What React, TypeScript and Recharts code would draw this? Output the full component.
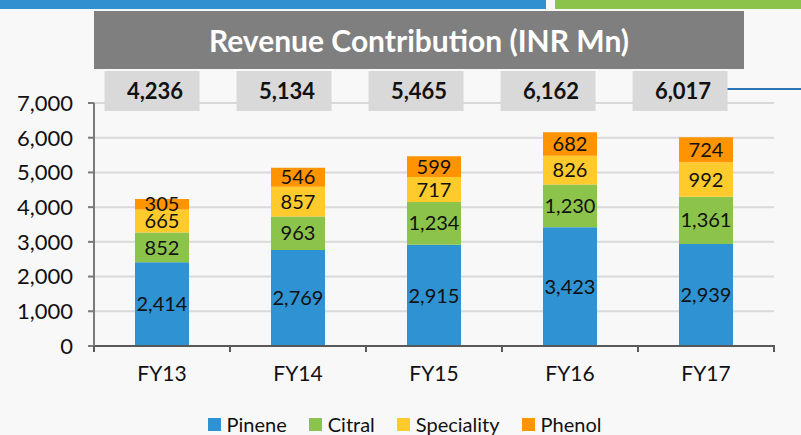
import { Bar, BarChart, CartesianGrid, LabelList, XAxis, YAxis } from 'recharts';

const categories = ['FY13', 'FY14', 'FY15', 'FY16', 'FY17'];
const pinene = [2414, 2769, 2915, 3423, 2939];
const citral = [852, 963, 1234, 1230, 1361];
const speciality = [665, 857, 717, 826, 992];
const phenol = [305, 546, 599, 682, 724];
const totals = [4236, 5134, 5465, 6162, 6017];
const yTicks = [0, 1000, 2000, 3000, 4000, 5000, 6000, 7000];

const series = [
  { key: 'pinene', name: 'Pinene', color: '#2f93d3' },
  { key: 'citral', name: 'Citral', color: '#8cc44b' },
  { key: 'speciality', name: 'Speciality', color: '#ffca2b' },
  { key: 'phenol', name: 'Phenol', color: '#ff9300' },
];

const data = categories.map((cat, i) => ({
  cat,
  pinene: pinene[i],
  citral: citral[i],
  speciality: speciality[i],
  phenol: phenol[i],
  total: totals[i],
}));

const FONT = 'Lato, "Open Sans", sans-serif';
const fmt = (v: unknown) => Number(v).toLocaleString('en-US');

function TotalBox(props: any) {
  const cx = Number(props.x) + Number(props.width) / 2;
  // the boxes sit a little left of their bars, drifting more toward the right
  const bx = 0.9706 * cx - 5.2;
  return (
    <g>
      <rect x={bx - 47.5} y={71} width={95} height={40} fill="#d9d9d9" />
      <text
        x={bx + 3}
        y={99}
        textAnchor="middle"
        fontFamily={FONT}
        fontWeight={700}
        fontSize={22}
        fill="#111"
      >
        {fmt(props.value)}
      </text>
    </g>
  );
}

function XTick(props: any) {
  const { x, y, payload, index } = props;
  const half = 68;
  return (
    <g>
      <line x1={x - half} x2={x - half} y1={y} y2={y + 6} stroke="#595959" strokeWidth={2} />
      {index === categories.length - 1 && (
        <line x1={x + half} x2={x + half} y1={y - 1} y2={y + 6} stroke="#595959" strokeWidth={2} />
      )}
      <text x={x} y={y + 35} textAnchor="middle" fontFamily={FONT} fontSize={21} fill="#111">
        {payload.value}
      </text>
    </g>
  );
}

export default function App() {
  return (
    <div
      style={{
        position: 'fixed',
        left: 0,
        top: 0,
        width: 801,
        height: 435,
        background: '#f8f8f8',
        fontFamily: FONT,
        overflow: 'hidden',
      }}
    >
      <div style={{ position: 'absolute', left: 0, top: 0, width: 546, height: 9, background: '#3190d0' }} />
      <div style={{ position: 'absolute', left: 555, top: 0, width: 246, height: 9, background: '#8cc34a' }} />
      <div style={{ position: 'absolute', left: 727, top: 88, width: 74, height: 2, background: '#2e75b6' }} />
      <div
        style={{
          position: 'absolute',
          left: 94,
          top: 11,
          width: 650,
          height: 58,
          background: '#7f7f7f',
          color: '#fff',
          fontWeight: 700,
          fontSize: 30,
          lineHeight: '58px',
          textAlign: 'center',
        }}
      >
        Revenue Contribution (INR Mn)
      </div>

      <div style={{ position: 'absolute', left: 0, top: 0 }}>
        <BarChart
          width={801}
          height={435}
          data={data}
          margin={{ top: 103, right: 27, bottom: 59, left: 0 }}
        >
          <CartesianGrid vertical={false} stroke="#d9d9d9" strokeWidth={2} />
          <XAxis
            dataKey="cat"
            height={30}
            axisLine={{ stroke: '#595959', strokeWidth: 2 }}
            tickLine={false}
            tickSize={0}
            tickMargin={0}
            tick={<XTick />}
            interval={0}
          />
          <YAxis
            width={94}
            domain={[0, 7000]}
            ticks={yTicks}
            interval={0}
            tickFormatter={fmt}
            axisLine={{ stroke: '#7a7a7a', strokeWidth: 2 }}
            tickLine={{ stroke: '#7a7a7a', strokeWidth: 2 }}
            tickSize={6}
            tickMargin={15}
            tick={{ fill: '#111', fontSize: 22, fontFamily: FONT }}
          />
          {series.map((s) => (
            <Bar
              key={s.key}
              dataKey={s.key}
              name={s.name}
              stackId="rev"
              fill={s.color}
              barSize={54}
              isAnimationActive={false}
            >
              <LabelList
                dataKey={s.key}
                position="center"
                formatter={fmt}
                fill="#111"
                fontSize={20}
                fontFamily={FONT}
              />
              {s.key === 'phenol' && <LabelList dataKey="total" content={<TotalBox />} />}
            </Bar>
          ))}
        </BarChart>
      </div>

      <div
        style={{
          position: 'absolute',
          left: 0,
          top: 412,
          width: 801,
          display: 'flex',
          justifyContent: 'center',
          gap: 22,
          paddingLeft: 8,
          boxSizing: 'border-box',
        }}
      >
        {series.map((s) => (
          <div key={s.key} style={{ display: 'flex', alignItems: 'center', gap: 6 }}>
            <span style={{ display: 'inline-block', width: 13, height: 13, background: s.color }} />
            <span style={{ fontSize: 20, color: '#111', lineHeight: '24px' }}>{s.name}</span>
          </div>
        ))}
      </div>
    </div>
  );
}
